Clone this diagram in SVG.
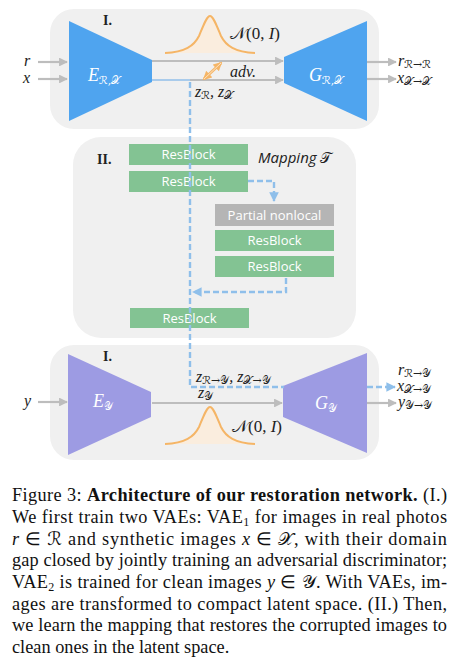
<svg xmlns="http://www.w3.org/2000/svg" width="462" height="671" viewBox="0 0 462 671">
<defs>
<style>
.panel{fill:#f0f0f0}
.enc1{fill:#4fa4ef}
.enc2{fill:#9d9be3}
.rb{fill:#83c393}
.pn{fill:#b5b5b5}
.rbt{font-family:"Open Sans","Noto Sans",sans-serif;font-size:13px;fill:#ffffff;text-anchor:middle}
.math{font-family:"Liberation Serif","Times New Roman",serif;font-style:italic;fill:#222}
.mathw{font-family:"Liberation Serif","Times New Roman",serif;font-style:italic;fill:#ffffff}
.roman{font-family:"Liberation Serif","Times New Roman",serif;fill:#222}
.cal{font-family:"DejaVu Serif","DejaVu Sans","Liberation Serif",serif;font-style:normal}
.gl{stroke:#bdbdbd;stroke-width:2.2;fill:none}
.bl{stroke:#8fbfea;stroke-width:2.4;fill:none;stroke-dasharray:6 3}
.gauss{fill:#fdebd6;fill-opacity:0.7;stroke:#f5b566;stroke-width:2}
.cap{font-family:"Liberation Serif","Times New Roman",serif;font-size:18.3px;fill:#111}
</style>
<marker id="ag" viewBox="0 0 10 10" refX="9" refY="5" markerWidth="4" markerHeight="4" orient="auto"><path d="M0,0 L10,5 L0,10 z" fill="#bdbdbd"/></marker>
<marker id="ab" viewBox="0 0 10 10" refX="9" refY="5" markerWidth="4" markerHeight="4" orient="auto"><path d="M0,0 L10,5 L0,10 z" fill="#8fbfea"/></marker>
<marker id="ao" viewBox="0 0 10 10" refX="8" refY="5" markerWidth="3" markerHeight="3" orient="auto-start-reverse"><path d="M0,0 L10,5 L0,10 z" fill="#f5b566"/></marker>
</defs>
<rect width="462" height="671" fill="#ffffff"/>

<g id="panel-top">
<rect class="panel" x="50" y="9" width="329" height="120" rx="24"/>
<text class="roman" x="103" y="25" font-size="14" font-weight="bold">I.</text>
</g>
<g id="panel-mapping">
<rect class="panel" x="73" y="137" width="283" height="201" rx="28"/>
<text class="roman" x="97" y="164" font-size="14" font-weight="bold">II.</text>
<text x="258" y="163" font-family="'Open Sans','Noto Sans',sans-serif" font-style="italic" font-size="15" fill="#222">Mapping <tspan class="cal" font-style="italic">𝒯</tspan></text>
</g>
<g id="panel-bottom">
<rect class="panel" x="50" y="345" width="329" height="115" rx="24"/>
<text class="roman" x="103" y="361" font-size="14" font-weight="bold">I.</text>
</g>

<g id="gauss-top"><path class="gauss" d="M165,53 C185,52 194,46 199,36 C204,24 207,16 210,16 C213,16 216,24 221,36 C226,46 235,52 255,53"/>
<text class="roman" x="230" y="39" font-size="17"><tspan class="cal" font-style="italic">𝒩</tspan>(0, <tspan font-style="italic">I</tspan>)</text></g>
<g id="gauss-bottom"><path class="gauss" d="M165,444 C185,443 194,437 199,427 C204,415 207,407 210,407 C213,407 216,415 221,427 C226,437 235,443 255,444"/>
<text class="roman" x="232" y="432" font-size="17"><tspan class="cal" font-style="italic">𝒩</tspan>(0, <tspan font-style="italic">I</tspan>)</text></g>

<g id="connectors">
<line class="gl" x1="38" y1="62" x2="67" y2="62" marker-end="url(#ag)"/>
<line class="gl" x1="38" y1="79" x2="67" y2="79" marker-end="url(#ag)"/>
<line class="gl" x1="152" y1="61" x2="283" y2="61" marker-end="url(#ag)"/>
<line class="gl" x1="152" y1="80" x2="283" y2="80" marker-end="url(#ag)"/>
<line x1="152" y1="80" x2="190" y2="80" stroke="#a9cbeb" stroke-width="2.2"/>
<line class="gl" x1="367" y1="62" x2="396" y2="62" marker-end="url(#ag)"/>
<line class="gl" x1="367" y1="79" x2="396" y2="79" marker-end="url(#ag)"/>
<line x1="204" y1="79" x2="221" y2="63" stroke="#f5b566" stroke-width="3" marker-start="url(#ao)" marker-end="url(#ao)"/>
<line x1="204" y1="79" x2="221" y2="63" stroke="#fde3c2" stroke-width="1"/>
<path class="bl" d="M248,181 H274 V201" marker-end="url(#ab)"/>
<path class="bl" d="M286,278 V292 H193" marker-end="url(#ab)"/>
<line class="gl" x1="38" y1="402" x2="67" y2="402" marker-end="url(#ag)"/>
<line class="gl" x1="152" y1="403" x2="282" y2="403" marker-end="url(#ag)"/>
<line class="gl" x1="367" y1="403" x2="396" y2="403" marker-end="url(#ag)"/>
<path class="bl" d="M367,387 H395" marker-end="url(#ab)"/>
</g>

<g id="enc-top"><polygon class="enc1" points="69,21 152,60 152,82 69,121"/>
<text class="mathw" x="88" y="81" font-size="18">E<tspan class="cal" font-size="11" dy="3">ℛ,𝒳</tspan></text></g>
<g id="dec-top"><polygon class="enc1" points="284,57 367,21 367,121 284,83"/>
<text class="mathw" x="309" y="81" font-size="18">G<tspan class="cal" font-size="11" dy="3">ℛ,𝒳</tspan></text></g>
<g id="enc-bottom"><polygon class="enc2" points="68,354 151,392 151,417 68,455"/>
<text class="mathw" x="93" y="407" font-size="18">E<tspan class="cal" font-size="11" dy="3">𝒴</tspan></text></g>
<g id="dec-bottom"><polygon class="enc2" points="283,386 367,353 367,453 283,417"/>
<text class="mathw" x="315" y="409" font-size="18">G<tspan class="cal" font-size="11" dy="3">𝒴</tspan></text></g>

<g id="rb1"><rect class="rb" x="129" y="144" width="119" height="21"/><text class="rbt" x="188.5" y="159">ResBlock</text></g>
<g id="rb2"><rect class="rb" x="129" y="171" width="119" height="21"/><text class="rbt" x="188.5" y="186">ResBlock</text></g>
<g id="pnl"><rect class="pn" x="215" y="204" width="119" height="22"/><text class="rbt" x="274.5" y="220">Partial nonlocal</text></g>
<g id="rb3"><rect class="rb" x="215" y="230" width="119" height="21"/><text class="rbt" x="274.5" y="245">ResBlock</text></g>
<g id="rb4"><rect class="rb" x="215" y="256" width="119" height="21"/><text class="rbt" x="274.5" y="271">ResBlock</text></g>
<g id="rb5"><rect class="rb" x="130" y="308" width="119" height="20"/><text class="rbt" x="189.5" y="323">ResBlock</text></g>

<g id="latent-path">
<path class="bl" d="M190,82 V387 H284"/>
</g>

<g id="labels">
<text class="math" x="24" y="66" font-size="16">r</text>
<text class="math" x="23" y="83" font-size="16">x</text>
<text class="math" x="24" y="406" font-size="16">y</text>
<text class="math" x="230" y="77" font-size="16">adv.</text>
<text class="math" x="195" y="97" font-size="16">z<tspan class="cal" font-size="11" dy="2">ℛ</tspan><tspan dy="-2">, z</tspan><tspan class="cal" font-size="11" dy="2">𝒳</tspan></text>
<text class="math" x="398" y="66" font-size="16">r<tspan class="cal" font-size="11" dy="2">ℛ→ℛ</tspan></text>
<text class="math" x="397" y="83" font-size="16">x<tspan class="cal" font-size="11" dy="2">𝒳→𝒳</tspan></text>
<text class="math" x="196" y="382" font-size="16">z<tspan class="cal" font-size="11" dy="2">ℛ→𝒴</tspan><tspan dy="-2">, z</tspan><tspan class="cal" font-size="11" dy="2">𝒳→𝒴</tspan></text>
<text class="math" x="198" y="398" font-size="16">z<tspan class="cal" font-size="11" dy="2">𝒴</tspan></text>
<text class="math" x="398" y="375" font-size="16">r<tspan class="cal" font-size="11" dy="2">ℛ→𝒴</tspan></text>
<text class="math" x="397" y="391" font-size="16">x<tspan class="cal" font-size="11" dy="2">𝒳→𝒴</tspan></text>
<text class="math" x="398" y="407" font-size="16">y<tspan class="cal" font-size="11" dy="2">𝒴→𝒴</tspan></text>
</g>

<g id="caption">
<text class="cap" x="12" y="501" textLength="435" lengthAdjust="spacing">Figure 3: <tspan font-weight="bold">Architecture of our restoration network.</tspan> (I.)</text>
<text class="cap" x="12" y="523" textLength="435" lengthAdjust="spacing">We first train two VAEs: VAE<tspan font-size="12" dy="3">1</tspan><tspan dy="-3"> for images in real photos</tspan></text>
<text class="cap" x="12" y="545" textLength="435" lengthAdjust="spacing"><tspan font-style="italic">r</tspan> ∈ <tspan class="cal">ℛ</tspan> and synthetic images <tspan font-style="italic">x</tspan> ∈ <tspan class="cal">𝒳</tspan>, with their domain</text>
<text class="cap" x="12" y="566" textLength="435" lengthAdjust="spacing">gap closed by jointly training an adversarial discriminator;</text>
<text class="cap" x="12" y="588" textLength="435" lengthAdjust="spacing">VAE<tspan font-size="12" dy="3">2</tspan><tspan dy="-3"> is trained for clean images </tspan><tspan font-style="italic">y</tspan> ∈ <tspan class="cal">𝒴</tspan>. With VAEs, im-</text>
<text class="cap" x="12" y="610" textLength="435" lengthAdjust="spacing">ages are transformed to compact latent space. (II.) Then,</text>
<text class="cap" x="12" y="631" textLength="435" lengthAdjust="spacing">we learn the mapping that restores the corrupted images to</text>
<text class="cap" x="12" y="653">clean ones in the latent space.</text>
</g>
</svg>
